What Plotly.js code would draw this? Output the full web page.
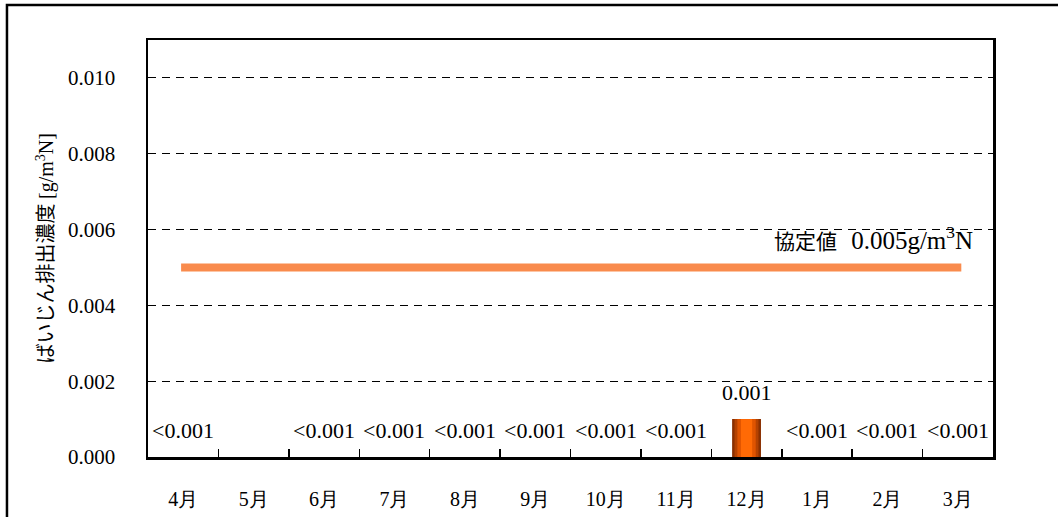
<!DOCTYPE html>
<html><head><meta charset="utf-8">
<script src="https://cdn.plot.ly/plotly-3.0.1.min.js"></script>
<style>html,body{margin:0;padding:0;background:#fff;}#c{width:1058px;height:517px;}</style>
</head><body><div id="c"></div>
<script>
const months = ["4月","5月","6月","7月","8月","9月","10月","11月","12月","1月","2月","3月"];
const values = [0, null, 0, 0, 0, 0, 0, 0, 0.001, 0, 0, 0];
const labels = ["<0.001","","<0.001","<0.001","<0.001","<0.001","<0.001","<0.001","0.001","<0.001","<0.001","<0.001"];
const limitValue = 0.005;
const limitName = "協定値";
const limitText = "0.005g/m<sup>3</sup>N";
const yTitleJa = "ばいじん排出濃度";
const yTitleUnit = "[g/m<sup>3</sup>N]";
const yTicks = [0, 0.002, 0.004, 0.006, 0.008, 0.010];
const yTickText = ["0.000","0.002","0.004","0.006","0.008","0.010"];

const SERIF = "'Liberation Serif','Times New Roman',serif";
const GOTHIC = "Noto Sans CJK JP";
const sp = (t, fam, size) => "<span style=\"font-family:" + fam + (size ? ";font-size:" + size + "px" : "") + "\">" + t + "</span>";

const barVals = values.map(v => (v && v > 0) ? v : null);
const barLayers = [[0.41,"#8a3000"],[0.34,"#b54200"],[0.26,"#e05400"],[0.16,"#ff6a05"]];
const traces = barLayers.map(([w,c]) => ({type:"bar", x:months, y:barVals, width:w,
  marker:{color:c, line:{width:0}}, hoverinfo:"skip", showlegend:false}));

const annotations = [];
months.forEach((m,i)=>{
  if(!labels[i]) return;
  annotations.push({x:m, y:values[i]||0, xref:"x", yref:"y", text:sp(labels[i].replace("<","&lt;"), SERIF),
    showarrow:false, yanchor:"middle", xanchor:"center", yshift:27,
    font:{family:GOTHIC, size:22, color:"#000"}});
});
annotations.push({x:0.979, y:limitValue, xref:"paper", yref:"y", xanchor:"right", yanchor:"middle",
  yshift:29, showarrow:false, text:sp(limitName, GOTHIC) + "&nbsp;&nbsp; " + sp(limitText, SERIF, 25),
  font:{family:GOTHIC, size:21, color:"#000"}});
annotations.push({x:-0.1219, y:0.5, xref:"paper", yref:"paper", textangle:-90, showarrow:false,
  xanchor:"center", yanchor:"middle",
  text:sp(yTitleJa, GOTHIC) + " " + sp(yTitleUnit, SERIF), font:{family:GOTHIC, size:20, color:"#000"}});

const layout = {
  width:1058, height:517,
  margin:{l:148, r:65, t:40, b:60},
  paper_bgcolor:"#fff", plot_bgcolor:"#fff",
  barmode:"overlay",
  showlegend:false,
  font:{family:GOTHIC, color:"#000"},
  xaxis:{type:"category", categoryorder:"array", categoryarray:months, range:[-0.5,11.5],
    tickvals:months, ticktext:months.map(m => sp(m, SERIF)),
    showline:true, linecolor:"#000", linewidth:2.5, mirror:true,
    ticks:"inside", tickson:"boundaries", ticklen:8, tickwidth:1.5, tickcolor:"#000",
    ticklabelstandoff:22,
    tickfont:{family:GOTHIC, size:20, color:"#000"}, showgrid:false, zeroline:false, fixedrange:true},
  yaxis:{range:[0,0.011], tickvals:yTicks, ticktext:yTickText.map(t => sp(t, SERIF)),
    showline:true, linecolor:"#000", linewidth:2.5, mirror:true,
    ticks:"", ticklabelstandoff:26,
    tickfont:{family:GOTHIC, size:21, color:"#000"},
    showgrid:true, gridcolor:"#000", gridwidth:1, griddash:"8px,6px", zeroline:false, fixedrange:true},
  shapes:[
    {type:"line", xref:"x", yref:"y", x0:-0.03, x1:11.05, y0:limitValue, y1:limitValue,
      line:{color:"#f98b4d", width:8}},
    {type:"rect", xref:"paper", yref:"paper", x0:-0.1669, x1:1.2, y0:-0.3, y1:1.084,
      line:{color:"#000", width:2.5}, fillcolor:"rgba(0,0,0,0)", layer:"below"}
  ],
  annotations:annotations
};
Plotly.newPlot("c", traces, layout, {displayModeBar:false, staticPlot:true});
</script></body></html>
